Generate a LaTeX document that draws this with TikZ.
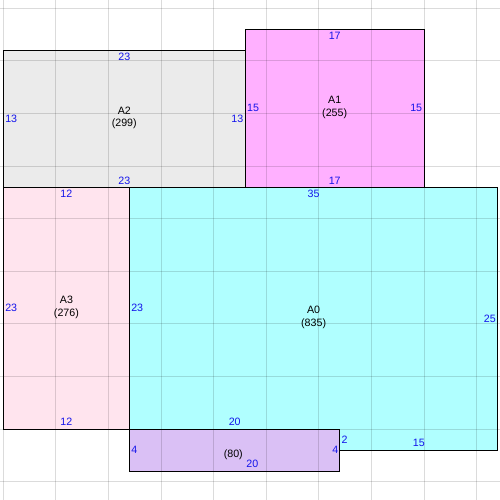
\documentclass[tikz,border=0pt]{standalone}
\usepackage{fontspec}
\setmainfont{Liberation Sans}
\definecolor{cAtwo}{RGB}{235,235,235}
\definecolor{cAone}{RGB}{255,176,255}
\definecolor{cAthree}{RGB}{255,228,238}
\definecolor{cAzero}{RGB}{176,255,255}
\definecolor{cAfour}{RGB}{218,192,245}
\definecolor{lblblue}{RGB}{20,20,235}
\begin{document}
\begin{tikzpicture}[x=7.89pt,y=-7.89pt,
  region/.style={draw=black,line width=0.75pt},
  gridline/.style={draw=black,draw opacity=0.14,line width=0.75pt},
  lbl/.style={inner sep=0pt,text=lblblue,font=\fontsize{8}{9.45}\selectfont},
  nm/.style={inner sep=0pt,align=center,text=black,font=\fontsize{8}{9.45}\selectfont}]
\useasboundingbox[fill=white] (-0.3137,-0.789) rectangle (47.215,46.74);
% fills
\fill[cAtwo] (0,4) rectangle (23,17);
\fill[cAone] (23,2) rectangle (40,17);
\fill[cAthree] (0,17) rectangle (12,40);
\fill[cAzero] (12,17) -- (47,17) -- (47,42) -- (32,42) -- (32,40) -- (12,40) -- cycle;
\fill[cAfour] (12,40) rectangle (32,44);
% grid
\foreach \k in {0,5,...,45} {
  \draw[gridline] (\k,-0.789) -- (\k,46.74);
  \draw[gridline] (-0.3137,\k) -- (47.215,\k);
}
% borders
\draw[region] (0,4) rectangle (23,17);
\draw[region] (23,2) rectangle (40,17);
\draw[region] (0,17) rectangle (12,40);
\draw[region] (12,17) -- (47,17) -- (47,42) -- (32,42) -- (32,40) -- (12,40) -- cycle;
\draw[region] (12,40) rectangle (32,44);
% names
\node[nm] (nA2) at (11.5,10.43) {A2\\(299)};
\node[nm] (nA1) at (31.5,9.43) {A1\\(255)};
\node[nm] (nA3) at (6,28.43) {A3\\(276)};
\node[nm] (nA0) at (29.5,29.4) {A0\\(835)};
\node[nm] (nA4) at (21.86,42.46) {(80)};
% A2 labels
\node[lbl] (a2t) at (11.5,4.66) {23};
\node[lbl] (a2b) at (11.5,16.42) {23};
\node[lbl,anchor=west] (a2l) at (0.16,10.5) {13};
\node[lbl,anchor=east] (a2r) at (22.84,10.5) {13};
% A1 labels
\node[lbl] (a1t) at (31.5,2.62) {17};
\node[lbl] (a1b) at (31.5,16.42) {17};
\node[lbl,anchor=west] (a1l) at (23.16,9.5) {15};
\node[lbl,anchor=east] (a1r) at (39.84,9.5) {15};
% A3 labels
\node[lbl] (a3t) at (6,17.65) {12};
\node[lbl] (a3b) at (6,39.33) {12};
\node[lbl,anchor=west] (a3l) at (0.16,28.5) {23};
% A0 labels
\node[lbl] (a0t) at (29.5,17.65) {35};
\node[lbl,anchor=west] (a0l) at (12.14,28.5) {23};
\node[lbl,anchor=east] (a0r) at (46.84,29.5) {25};
\node[lbl] (a0b) at (22,39.33) {20};
\node[lbl,anchor=west] (a0s) at (32.14,41.03) {2};
\node[lbl] (a0c) at (39.5,41.35) {15};
% A4 labels
\node[lbl,anchor=west] (a4l) at (12.14,42) {4};
\node[lbl,anchor=east] (a4r) at (31.86,42) {4};
\node[lbl] (a4b) at (23.67,43.32) {20};
\end{tikzpicture}
\end{document}
